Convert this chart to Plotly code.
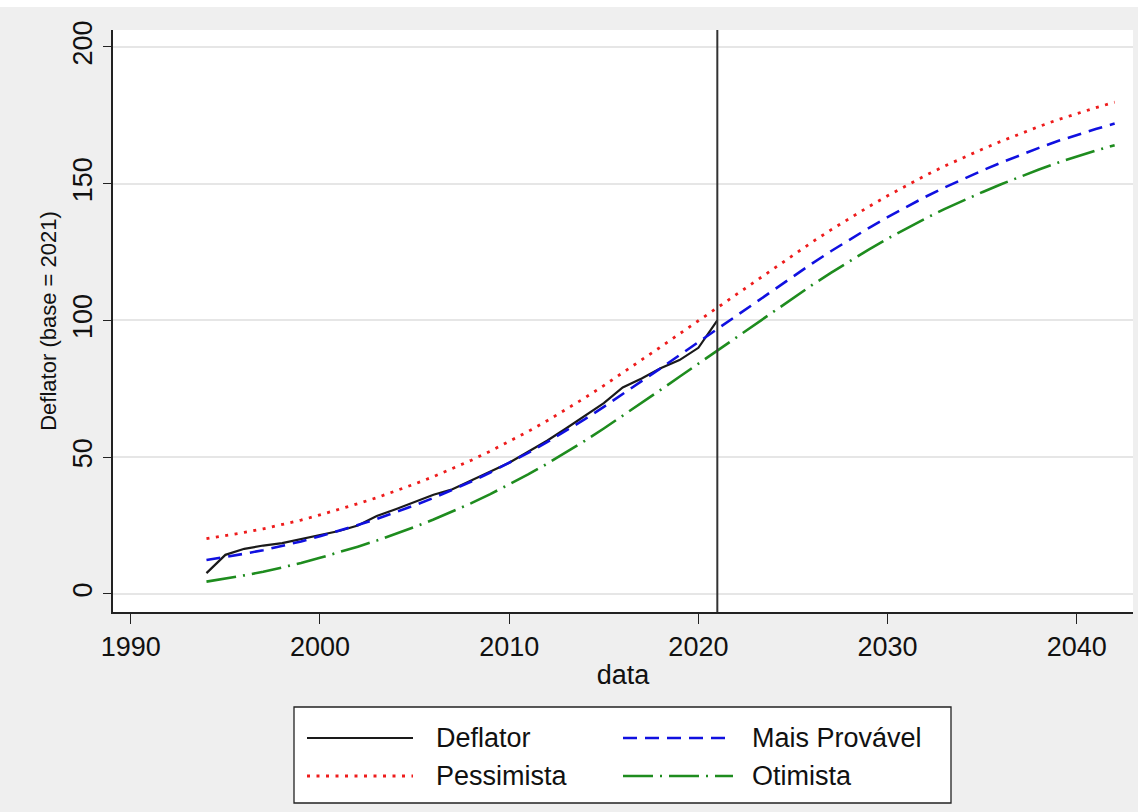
import plotly.graph_objects as go

# Observed deflator (base = 2021)
anos_hist = list(range(1994, 2022))
deflator = [7.6, 14.3, 16.5, 17.7, 18.6, 20.0, 21.5, 23.0, 25.0, 28.5,
            31.0, 33.7, 36.3, 38.3, 41.5, 44.5, 48.0, 52.0, 56.0, 60.5,
            65.0, 69.8, 75.5, 78.8, 82.5, 85.5, 90.0, 100.0]

# Projected scenarios
anos_proj = list(range(1994, 2043))
mais_provavel = [12.4, 13.5, 14.7, 16.0, 17.5, 19.2, 21.1, 23.1, 25.2, 27.4,
                 29.8, 32.4, 35.1, 38.0, 41.1, 44.4, 47.9, 51.6, 55.5, 59.6,
                 63.9, 68.4, 73.0, 77.7, 82.5, 87.3, 92.1, 96.9, 101.8, 106.7,
                 111.5, 116.2, 120.8, 125.3, 129.6, 133.8, 137.8, 141.6, 145.2, 148.6,
                 151.8, 154.8, 157.7, 160.5, 163.1, 165.6, 167.9, 170.0, 172.0]
pessimista = [20.2, 21.3, 22.5, 23.8, 25.3, 27.0, 28.9, 30.9, 33.0, 35.2,
              37.6, 40.2, 42.9, 45.8, 48.9, 52.2, 55.7, 59.4, 63.3, 67.4,
              71.7, 76.2, 80.8, 85.5, 90.3, 95.1, 99.9, 104.7, 109.6, 114.5,
              119.3, 124.0, 128.6, 133.1, 137.4, 141.6, 145.6, 149.4, 153.0, 156.4,
              159.6, 162.6, 165.5, 168.3, 170.9, 173.4, 175.7, 177.8, 179.8]
otimista = [4.5, 5.6, 6.8, 8.1, 9.6, 11.3, 13.2, 15.2, 17.3, 19.5,
            21.9, 24.5, 27.2, 30.1, 33.2, 36.5, 40.0, 43.7, 47.6, 51.7,
            56.0, 60.5, 65.1, 69.8, 74.6, 79.4, 84.2, 89.0, 93.9, 98.8,
            103.6, 108.3, 112.9, 117.4, 121.7, 125.9, 129.9, 133.7, 137.3, 140.7,
            143.9, 146.9, 149.8, 152.6, 155.2, 157.7, 160.0, 162.1, 164.1]

x_ticks = [1990, 2000, 2010, 2020, 2030, 2040]
y_ticks = [0, 50, 100, 150, 200]
ano_base = 2021

FONT = "Arial, Liberation Sans, sans-serif"
estilos = {
    "Deflator": dict(color="#1a1a1a", width=2.2, dash="solid"),
    "Mais Provável": dict(color="#1010e0", width=2.6, dash="14px,8px"),
    "Pessimista": dict(color="#ee1c1c", width=2.8, dash="3px,6.5px"),
    "Otimista": dict(color="#1e8c1e", width=2.6, dash="30px,7px,2px,7px"),
}

fig = go.Figure()
series = [
    ("Deflator", anos_hist, deflator),
    ("Mais Provável", anos_proj, mais_provavel),
    ("Pessimista", anos_proj, pessimista),
    ("Otimista", anos_proj, otimista),
]
for nome, xs, ys in series:
    fig.add_trace(go.Scatter(x=xs, y=ys, mode="lines", name=nome,
                             line=estilos[nome], showlegend=False))

# Vertical reference line at the base year
fig.add_shape(type="line", x0=ano_base, x1=ano_base, xref="x",
              y0=0, y1=1, yref="paper",
              line=dict(color="#333333", width=2))

# Legend box (paper coordinates below the plot area)
L, R, T, B = 113, 1133, 30, 612


def px(xp):
    return (xp - L) / (R - L)


def py(yp):
    return (B - yp) / (B - T)


fig.add_shape(type="rect", xref="paper", yref="paper",
              x0=px(294), x1=px(951), y0=py(803), y1=py(707),
              line=dict(color="#222222", width=1.3), fillcolor="white",
              layer="above")

entradas = [
    ("Deflator", 307, 413, 434, 738),
    ("Mais Provável", 623, 733, 750, 738),
    ("Pessimista", 307, 413, 434, 776),
    ("Otimista", 623, 733, 750, 776),
]
for nome, xa, xb, xt, yr in entradas:
    fig.add_shape(type="line", xref="paper", yref="paper",
                  x0=px(xa), x1=px(xb), y0=py(yr), y1=py(yr),
                  line=estilos[nome], layer="above")
    fig.add_annotation(text=nome, xref="paper", yref="paper",
                       x=px(xt), y=py(yr), xanchor="left", yanchor="middle",
                       showarrow=False, font=dict(family=FONT, size=27, color="#111111"))

# White strip across the very top of the page
fig.add_shape(type="rect", xref="paper", yref="paper",
              x0=px(0), x1=px(1138), y0=py(7), y1=py(-5),
              line=dict(width=0), fillcolor="white", layer="above")

fig.update_layout(
    width=1138, height=812,
    margin=dict(l=L, r=1138 - R, t=T, b=812 - B),
    paper_bgcolor="#efefef",
    plot_bgcolor="white",
    font=dict(family=FONT, color="#111111"),
    showlegend=False,
)
fig.update_xaxes(
    range=[1989.06, 2042.97],
    tickmode="array", tickvals=x_ticks, ticktext=[str(v) for v in x_ticks],
    ticks="outside", ticklen=10, tickwidth=1.3, tickcolor="#222222",
    tickfont=dict(size=27, family=FONT),
    showgrid=False, zeroline=False,
    showline=True, linecolor="#222222", linewidth=1.6,
    title=dict(text="data", font=dict(size=27, family=FONT), standoff=4),
)
fig.update_yaxes(
    range=[-6.6, 206.2],
    tickmode="array", tickvals=y_ticks, ticktext=[str(v) for v in y_ticks],
    tickangle=-90,
    ticks="outside", ticklen=8, tickwidth=1.3, tickcolor="#222222",
    tickfont=dict(size=27, family=FONT),
    showgrid=True, gridcolor="#e6e6e6", gridwidth=1.6,
    zeroline=False,
    showline=True, linecolor="#222222", linewidth=1.6,
    title=dict(text="Deflator (base = 2021)", font=dict(size=22, family=FONT), standoff=6),
)

fig.write_html("out.html")
